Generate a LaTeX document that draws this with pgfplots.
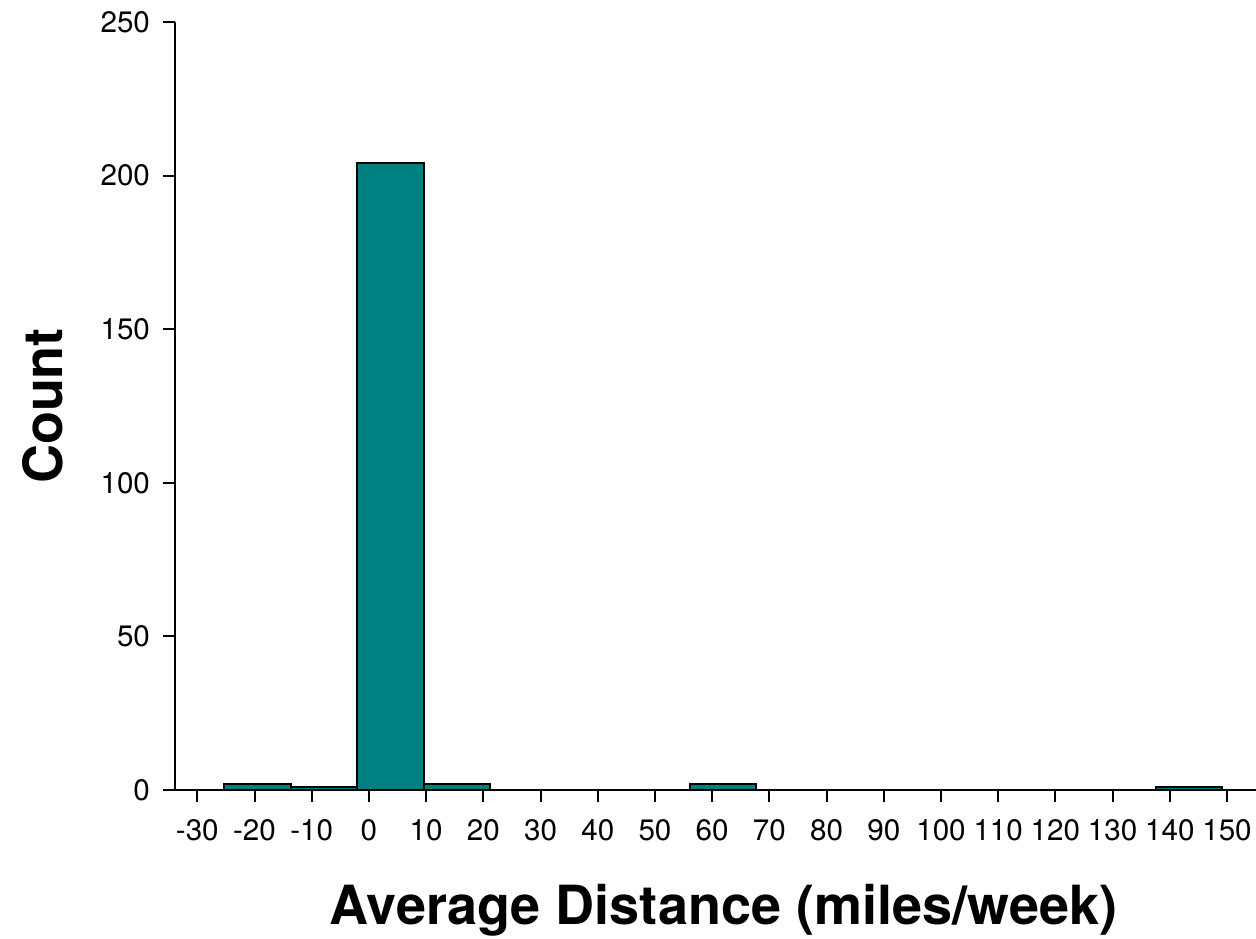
\documentclass[border=0pt]{standalone}
\usepackage{pgfplots}
\pgfplotsset{compat=1.18}
\usepackage{fontspec}
\setmainfont{TeX Gyre Heros}
\definecolor{barteal}{RGB}{0,128,128}
\begin{document}
\begin{tikzpicture}
\useasboundingbox (-87.5pt,-74pt) rectangle (540.5pt,395pt);
\begin{axis}[
  at={(0,0)}, anchor=south west,
  scale only axis,
  width=540.5pt, height=384pt,
  xmin=-33.9, xmax=155.07,
  ymin=0, ymax=250,
  axis x line=bottom, axis y line=left,
  axis line style={-, line width=1pt, black},
  tick style={line width=1pt, black},
  tick align=outside,
  major tick length=6pt,
  xtick={-30,-20,...,150},
  ytick={0,50,100,150,200,250},
  minor tick num=0,
  xticklabel={\pgfmathprintnumber[assume math mode=true]{\tick}},
  yticklabel={\pgfmathprintnumber[assume math mode=true]{\tick}},
  tick label style={font=\fontsize{14.8}{17}\selectfont},
  xticklabel style={yshift=-5pt},
  yticklabel style={xshift=-3pt},
  xlabel={Average Distance (miles/week)},
  ylabel={Count},
  every axis x label/.style={at={(axis description cs:0.5,0)}, anchor=center, yshift=-60pt, xshift=4pt, font=\fontsize{27}{30}\selectfont\bfseries},
  every axis y label/.style={at={(axis description cs:0,0.5)}, anchor=center, rotate=90, yshift=66pt, font=\fontsize{27}{30}\selectfont\bfseries},
  clip=false,
]
\addplot[ybar interval, fill=barteal, draw=black, line width=1pt] coordinates {
  (-25.30,2) (-13.67,1) (-2.04,204) (9.59,2) (21.22,0) (32.85,0) (44.48,0)
  (56.11,2) (67.74,0) (79.37,0) (91.00,0) (102.63,0) (114.26,0) (125.89,0)
  (137.52,1) (149.15,1)
};
\draw[line width=1pt, black] (axis cs:-36,0) -- (axis cs:-33.9,0);
\end{axis}
\end{tikzpicture}
\end{document}
